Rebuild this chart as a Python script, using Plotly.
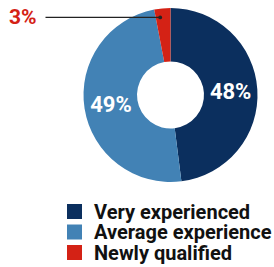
import math
import plotly.graph_objects as go

categories = ["Very experienced", "Average experience", "Newly qualified"]
values = [48, 49, 3]
colors = ["#0b2f5e", "#4282b5", "#d42215"]

W, H = 274, 267
cx, cy, R = 170.5, 95.0, 87.0
dom_x = [(cx - R) / W, (cx + R) / W]
dom_y = [1 - (cy + R) / H, 1 - (cy - R) / H]
hole = 0.385
FONT = "Roboto"

texts = [f"{v}%" if v >= 10 else "" for v in values]

fig = go.Figure(go.Pie(
    labels=categories, values=values, sort=False, direction="clockwise",
    rotation=0, hole=hole,
    marker=dict(colors=colors, line=dict(color="white", width=0)),
    text=texts, textinfo="text", textposition="inside",
    insidetextorientation="horizontal",
    textfont=dict(color="white", size=22, family=FONT, weight="bold"),
    domain=dict(x=dom_x, y=dom_y), hoverinfo="label+value",
    showlegend=False,
))

# leader line for the small slice, anchored at a point derived from the data
total = sum(values)
start = sum(values[:2]) / total
ang = (start + values[2] / total * 0.3) * 2 * math.pi
r = R * 0.9
px = cx + r * math.sin(ang)
py = cy - r * math.cos(ang)

fig.add_annotation(
    x=px / W, y=1 - py / H, xref="paper", yref="paper",
    ax=44 - px, ay=0, axref="pixel", ayref="pixel",
    showarrow=True, arrowhead=6, arrowsize=0.8, arrowwidth=1.2,
    arrowcolor="#222222", text="",
)
fig.add_annotation(
    x=39 / W, y=1 - py / H, xref="paper", yref="paper", xanchor="right",
    yanchor="middle", showarrow=False, text=f"{values[2]}%",
    font=dict(color=colors[2], size=21, family=FONT, weight="bold"),
)

# legend built from categories / colors
row_y = [211.5, 232.0, 252.5]
for cat, col, yy in zip(categories, colors, row_y):
    fig.add_shape(type="rect", xref="paper", yref="paper",
                  x0=67 / W, x1=82 / W, y0=1 - (yy + 7.5) / H, y1=1 - (yy - 7.5) / H,
                  fillcolor=col, line=dict(width=0))
    fig.add_annotation(x=93 / W, y=1 - yy / H, xref="paper", yref="paper",
                       xanchor="left", yanchor="middle", showarrow=False,
                       text=cat, borderpad=0,
                       font=dict(size=20, family=FONT, color="#111111", weight="bold"))

fig.update_layout(
    width=W, height=H, margin=dict(l=0, r=0, t=0, b=0),
    paper_bgcolor="white", plot_bgcolor="white",
    showlegend=False,
)
fig.write_html("out.html", config={"displayModeBar": False},
               post_script="document.body.style.margin='0';document.body.style.overflow='hidden';")
